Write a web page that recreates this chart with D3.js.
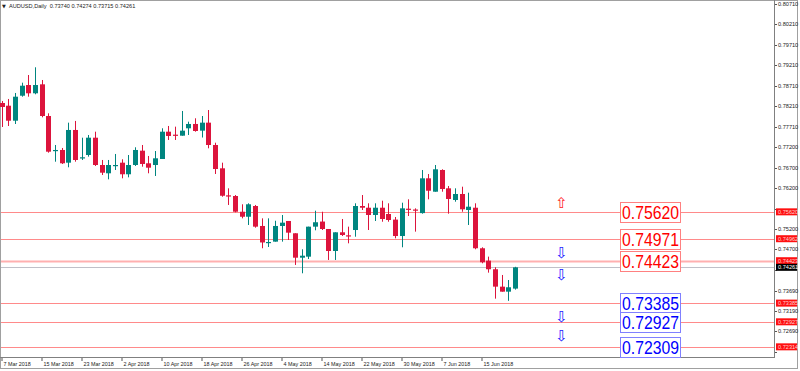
<!DOCTYPE html>
<html>
<head>
<meta charset="utf-8">
<script src="https://cdn.jsdelivr.net/npm/d3@7"></script>
<style>
  body { margin: 0; background: #fff; }
  svg { display: block; font-family: "Liberation Sans", Arial, sans-serif; }
</style>
</head>
<body>
<div id="chart"></div>
<script>
// candle data (one value per trading day, 7 Mar -> 22 Jun 2018)
const opens = [0.78286,0.78219,0.77852,0.78464,0.78726,0.78523,0.78743,0.77967,0.77122,0.77135,
  0.76824,0.77625,0.76951,0.77012,0.77436,0.76767,0.76564,0.76760,0.76824,0.76540,
  0.76767,0.77118,0.76809,0.76767,0.76914,0.77583,0.77510,0.77485,0.77666,0.77772,
  0.77608,0.77804,0.77257,0.76686,0.76024,0.76008,0.75623,0.75500,0.75763,0.75274,
  0.74870,0.74890,0.75274,0.75396,0.75095,0.74497,0.74522,0.75257,0.75382,0.75200,
  0.74661,0.75119,0.75045,0.75175,0.75763,0.75721,0.75543,0.75721,0.75567,0.75430,
  0.75028,0.75697,0.75677,0.75589,0.76441,0.76113,0.76645,0.76196,0.75910,0.76057,
  0.75665,0.75721,0.74728,0.74425,0.74214,0.73788,0.73665,0.73740];
const highs = [0.78335,0.78384,0.78531,0.78783,0.78971,0.79160,0.78849,0.78033,0.77257,0.77184,
  0.77804,0.77846,0.77436,0.77502,0.77583,0.76890,0.76890,0.77037,0.76907,0.77012,
  0.77201,0.77257,0.76988,0.77110,0.77666,0.77723,0.77706,0.78090,0.77828,0.77911,
  0.77967,0.78114,0.77313,0.76824,0.76196,0.76032,0.75805,0.75829,0.75788,0.75461,
  0.75461,0.75402,0.75543,0.75396,0.75095,0.74703,0.75257,0.75648,0.75623,0.75200,
  0.75119,0.75445,0.75257,0.75829,0.76032,0.75829,0.75829,0.75893,0.75829,0.75494,
  0.75844,0.75927,0.75706,0.76645,0.76547,0.76767,0.76662,0.76253,0.76196,0.76236,
  0.76089,0.75829,0.74752,0.74523,0.74263,0.74074,0.73951,0.74274];
const lows = [0.77698,0.77722,0.77771,0.78440,0.78440,0.78499,0.77935,0.77069,0.76848,0.76792,
  0.76711,0.76848,0.76890,0.76971,0.76743,0.76522,0.76416,0.76645,0.76441,0.76465,
  0.76743,0.76726,0.76564,0.76498,0.76914,0.77380,0.77380,0.77485,0.77502,0.77583,
  0.77440,0.77176,0.76547,0.75990,0.75788,0.75608,0.75461,0.75298,0.75232,0.74728,
  0.74759,0.74890,0.74890,0.74931,0.74319,0.74115,0.74465,0.75168,0.75175,0.74441,
  0.74441,0.75028,0.74849,0.75011,0.75665,0.75175,0.75396,0.75378,0.75378,0.74971,
  0.74752,0.75518,0.75135,0.75575,0.75927,0.76113,0.76113,0.75575,0.75868,0.75623,
  0.75298,0.74703,0.74360,0.74131,0.73494,0.73665,0.73440,0.73715];
const closes = [0.78188,0.77852,0.78440,0.78709,0.78523,0.78726,0.77967,0.77093,0.77135,0.76809,
  0.77625,0.76890,0.76956,0.77436,0.76767,0.76579,0.76767,0.76767,0.76540,0.76767,
  0.77135,0.76792,0.76701,0.76931,0.77583,0.77478,0.77502,0.77608,0.77772,0.77600,
  0.77804,0.77257,0.76669,0.76014,0.76014,0.75623,0.75500,0.75805,0.75257,0.74870,
  0.74882,0.75274,0.75355,0.75110,0.74497,0.74546,0.75257,0.75365,0.75200,0.74661,
  0.75119,0.75053,0.75036,0.75763,0.75721,0.75543,0.75721,0.75445,0.75420,0.75028,
  0.75706,0.75682,0.75665,0.76441,0.76137,0.76662,0.76179,0.75935,0.76057,0.75682,
  0.75746,0.74728,0.74385,0.74214,0.73788,0.73665,0.73773,0.74261];

const priceTicks = [0.80710,0.80210,0.79710,0.79210,0.78710,0.78210,0.77710,0.77200,0.76700,
  0.76200,0.75700,0.75200,0.74700,0.74200,0.73690,0.73190,0.72690,0.72190];
const dateTicks = ["7 Mar 2018","15 Mar 2018","23 Mar 2018","2 Apr 2018","10 Apr 2018","18 Apr 2018",
  "26 Apr 2018","4 May 2018","14 May 2018","22 May 2018","30 May 2018","7 Jun 2018","15 Jun 2018"];

// horizontal levels drawn on the chart
const levels = [0.75620, 0.74962, 0.74423, 0.73385, 0.72927, 0.72314];
const levelBoxText = ["0.75620","0.74971","0.74423","0.73385","0.72927","0.72309"];
const levelAxisText = ["0.75620","0.74962","0.74423","0.73385","0.72927","0.72314"];
const levelKind = ["res","res","res","sup","sup","sup"];
const arrowDir = ["up","down","down","down","down",null];
const lastPrice = 0.74261;
const title = "AUDUSD,Daily  0.73740 0.74274 0.73715 0.74261";

const W = 800, H = 371;
const plotR = 775, plotB = 358;

// trading days
const days = d3.utcDay.range(new Date(Date.UTC(2018,2,7)), new Date(Date.UTC(2018,5,23)))
  .filter(d => d.getUTCDay() != 0 && d.getUTCDay() != 6);
const fmt = d3.utcFormat("%-d %b %Y");
const data = days.map((d, i) => ({ date: fmt(d), o: opens[i], h: highs[i], l: lows[i], c: closes[i] }));

const svg = d3.select("#chart").append("svg").attr("width", W).attr("height", H);

const x = d3.scaleBand()
  .domain(data.map(d => d.date))
  .range([-1.63, -1.63 + 6.667 * data.length])
  .paddingInner(0.34).paddingOuter(0.17);
const cx = d => Math.round(x(d) + x.bandwidth() / 2) + 0.5;

const y = d3.scaleLinear().domain([0.8071, 0.7219]).range([4, 351.9]);

const red = "#dc143c", teal = "#00857f";

// frame
svg.append("rect").attr("x", 0.5).attr("y", 0.5).attr("width", W - 3).attr("height", H - 3)
  .attr("fill", "none").attr("stroke", "#a0a0a0");

// level lines
svg.selectAll(".lvl").data(levels).enter().append("line")
  .attr("x1", 1).attr("x2", plotR)
  .attr("y1", d => Math.round(y(d)) + 0.5).attr("y2", d => Math.round(y(d)) + 0.5)
  .attr("stroke", (d, i) => i == 2 ? "#ffb0b0" : "#ff8a8a")
  .attr("stroke-width", (d, i) => i == 2 ? 2 : 1);

// current price line
svg.append("line").attr("x1", 1).attr("x2", plotR)
  .attr("y1", Math.round(y(lastPrice)) + 0.5).attr("y2", Math.round(y(lastPrice)) + 0.5)
  .attr("stroke", "#c0c0c8");

// candles
const g = svg.append("g");
g.selectAll(".wick").data(data).enter().append("line")
  .attr("x1", d => cx(d.date)).attr("x2", d => cx(d.date))
  .attr("y1", d => y(d.h)).attr("y2", d => y(d.l))
  .attr("stroke", d => d.c >= d.o ? teal : red).attr("stroke-width", 1);
g.selectAll(".body").data(data).enter().append("rect")
  .attr("x", d => cx(d.date) - 2.5)
  .attr("width", 5)
  .attr("y", d => y(Math.max(d.o, d.c)))
  .attr("height", d => Math.max(1.2, y(Math.min(d.o, d.c)) - y(Math.max(d.o, d.c))))
  .attr("fill", d => d.c >= d.o ? teal : red);

// axes lines
svg.append("line").attr("x1", plotR - 0.5).attr("x2", plotR - 0.5).attr("y1", 0).attr("y2", plotB)
  .attr("stroke", "#808080");
svg.append("line").attr("x1", 0).attr("x2", plotR).attr("y1", plotB - 0.5).attr("y2", plotB - 0.5)
  .attr("stroke", "#808080");

// price axis (labels that sit under a level tag are left out, they are hidden there)
const tagged = levels.concat([lastPrice]);
const shownTicks = priceTicks.filter(t => !tagged.some(v => Math.abs(y(v) - y(t)) < 7));
const pa = svg.append("g");
pa.selectAll("line").data(priceTicks).enter().append("line")
  .attr("x1", plotR).attr("x2", plotR + 2)
  .attr("y1", d => Math.round(y(d)) + 0.5).attr("y2", d => Math.round(y(d)) + 0.5)
  .attr("stroke", "#555");
pa.selectAll("text").data(shownTicks).enter().append("text")
  .attr("x", plotR + 3).attr("y", d => y(d) + 2)
  .attr("font-size", 5.6).attr("fill", "#222")
  .text(d => d.toFixed(5));

// level price labels on the axis
const la = svg.append("g");
la.selectAll("rect").data(levels).enter().append("rect")
  .attr("x", plotR + 1).attr("y", d => y(d) - 3.5).attr("width", 21).attr("height", 7)
  .attr("fill", "#ff1010");
la.selectAll("text").data(levels).enter().append("text")
  .attr("x", plotR + 3).attr("y", d => y(d) + 2)
  .attr("font-size", 5.6).attr("fill", "#ffd0d0")
  .text((d, i) => levelAxisText[i]);
la.append("rect").attr("x", plotR + 1).attr("y", y(lastPrice) - 3.5).attr("width", 21).attr("height", 7)
  .attr("fill", "#000");
la.append("text").attr("x", plotR + 3).attr("y", y(lastPrice) + 2)
  .attr("font-size", 5.6).attr("fill", "#fff").text(lastPrice.toFixed(5));

// date axis
const da = svg.append("g");
da.selectAll("line").data(dateTicks).enter().append("line")
  .attr("x1", d => cx(d) - 0.5).attr("x2", d => cx(d) - 0.5)
  .attr("y1", plotB).attr("y2", plotB + 3)
  .attr("stroke", "#555");
da.selectAll("text").data(dateTicks).enter().append("text")
  .attr("x", d => cx(d) + 1).attr("y", plotB + 8)
  .attr("font-size", 5.4).attr("fill", "#222")
  .text(d => d);

// level boxes
const bx = svg.append("g");
bx.selectAll("rect").data(levels).enter().append("rect")
  .attr("x", 620.5).attr("y", d => Math.round(y(d)) - 9.5).attr("width", 60).attr("height", 20)
  .attr("fill", "#fff")
  .attr("stroke", (d, i) => levelKind[i] == "res" ? "#ff8080" : "#8080ff");
bx.selectAll("text").data(levels).enter().append("text")
  .attr("x", 622).attr("y", d => Math.round(y(d)) + 7)
  .attr("font-size", 19)
  .attr("textLength", 57).attr("lengthAdjust", "spacingAndGlyphs")
  .attr("fill", (d, i) => levelKind[i] == "res" ? "#ff0000" : "#0000ff")
  .text((d, i) => levelBoxText[i]);

// arrows
const arrows = levels.map((v, i) => ({ v: v, dir: arrowDir[i] })).filter(a => a.dir);
svg.selectAll(".arr").data(arrows).enter().append("text")
  .attr("x", 561.5).attr("text-anchor", "middle")
  .attr("y", d => d.dir == "up" ? y(d.v) - 4 : y(d.v) + 19)
  .attr("font-family", "DejaVu Sans").attr("font-size", 15)
  .attr("fill", d => d.dir == "up" ? "#ff2020" : "#2020ff")
  .text(d => d.dir == "up" ? "\u21e7" : "\u21e9");

// title
svg.append("text").attr("x", 2).attr("y", 8).attr("font-family", "DejaVu Sans").attr("font-size", 5)
  .attr("fill", "#222").text("\u25bc");
svg.append("text").attr("x", 9).attr("y", 8).attr("font-size", 5.6).attr("fill", "#222")
  .attr("xml:space", "preserve").text(title);
</script>
</body>
</html>
